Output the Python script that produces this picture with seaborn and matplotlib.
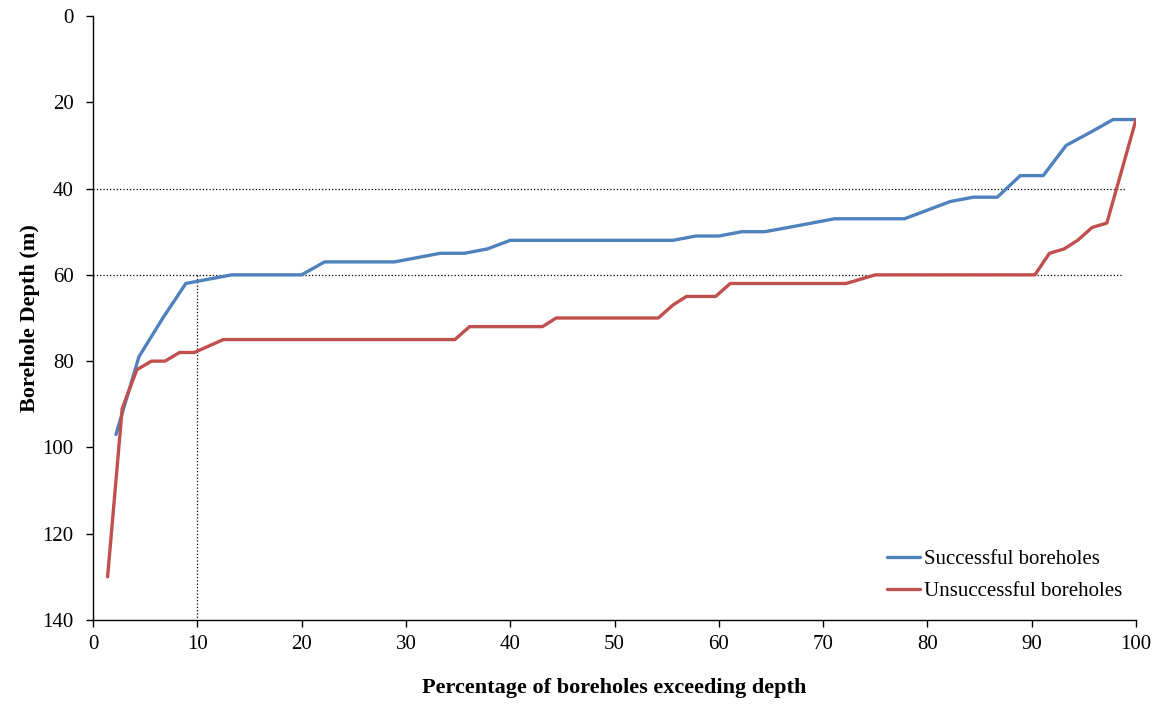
import numpy as np
import pandas as pd
import matplotlib
matplotlib.use("Agg")
import matplotlib.pyplot as plt
import seaborn as sns

# Percentage of boreholes exceeding depth vs depth (m)
success_pct = [2.2, 4.4, 6.7, 8.9, 11.1, 13.3, 20.0, 22.2, 28.9, 31.1, 33.3, 35.6,
               37.8, 40.0, 55.6, 57.8, 60.0, 62.2, 64.4, 66.7, 68.9, 71.1, 77.8,
               80.0, 82.2, 84.4, 86.7, 88.9, 91.1, 93.3, 95.6, 97.8, 100.0]
success_depth = [97, 79, 70, 62, 61, 60, 60, 57, 57, 56, 55, 55,
                 54, 52, 52, 51, 51, 50, 50, 49, 48, 47, 47,
                 45, 43, 42, 42, 37, 37, 30, 27, 24, 24]

fail_pct = [1.4, 2.8, 4.2, 5.6, 6.9, 8.3, 9.7, 11.1, 12.5, 34.7, 36.1, 43.1,
            44.4, 54.2, 55.6, 56.9, 59.7, 61.1, 72.2, 75.0, 90.3, 91.7, 93.1,
            94.4, 95.8, 97.2, 100.0]
fail_depth = [130, 91, 82, 80, 80, 78, 78, 76.5, 75, 75, 72, 72,
              70, 70, 67, 65, 65, 62, 62, 60, 60, 55, 54,
              52, 49, 48, 24]

labels = ["Successful boreholes", "Unsuccessful boreholes"]
colors = ["#4F81BD", "#C0504D"]

# dotted reference lines
ref_depths = [40, 60]
ref_ends = [99.0, 98.7]
ref_pct = 10

df = pd.concat([
    pd.DataFrame({"pct": success_pct, "depth": success_depth, "group": labels[0]}),
    pd.DataFrame({"pct": fail_pct, "depth": fail_depth, "group": labels[1]}),
])

sns.set_style("white")
plt.rcParams["font.family"] = ["Liberation Serif", "DejaVu Serif"]
plt.rcParams["text.color"] = "black"
plt.rcParams["axes.labelcolor"] = "black"

fig = plt.figure(figsize=(11.61, 7.04), dpi=100)
ax = fig.add_axes([0.0801, 0.1193, 0.8984, 0.858])

for d, e in zip(ref_depths, ref_ends):
    ax.plot([0, e], [d, d], color="black", linestyle=":", linewidth=0.9, zorder=1)
ax.plot([ref_pct, ref_pct], [60, 140], color="black", linestyle=":", linewidth=0.9, zorder=1)

sns.lineplot(data=df, x="pct", y="depth", hue="group", palette=colors,
             sort=False, estimator=None, linewidth=2.4, ax=ax, zorder=3)

ax.set_xlim(0, 100)
ax.set_ylim(140, 0)
ax.set_xticks(np.arange(0, 101, 10))
ax.set_yticks(np.arange(0, 141, 20))
ax.tick_params(axis="both", direction="out", length=5, width=1, labelsize=15,
               colors="black", left=True, bottom=True)
ax.tick_params(axis="y", pad=9)
ax.tick_params(axis="x", pad=6)
for s in ["top", "right"]:
    ax.spines[s].set_visible(False)
for s in ["left", "bottom"]:
    ax.spines[s].set_color("black")
    ax.spines[s].set_linewidth(1)

ax.set_xlabel("Percentage of boreholes exceeding depth", fontsize=16,
              fontweight="bold", labelpad=17)
ax.set_ylabel("Borehole Depth (m)", fontsize=16, fontweight="bold", labelpad=2)

leg = ax.legend(loc="lower right", bbox_to_anchor=(1.005, 0.0), frameon=False,
                fontsize=15, handlelength=1.6, handletextpad=0.2, labelspacing=0.6)
for line in leg.get_lines():
    line.set_linewidth(2.4)

fig.savefig("out.png", dpi=100)
plt.close(fig)
